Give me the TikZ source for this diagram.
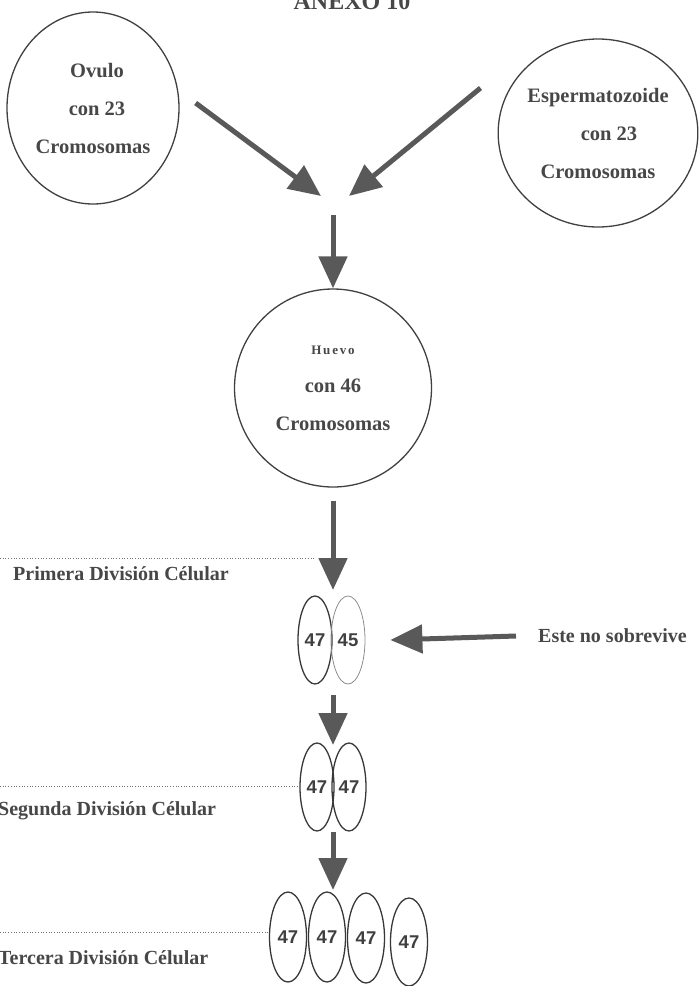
\documentclass[tikz,border=0pt]{standalone}
\usepackage{fontspec}
\setmainfont{Liberation Serif}
\newfontfamily\numfont{Liberation Sans}
\newfontfamily\spacedfont[LetterSpace=14]{Liberation Serif}
\usetikzlibrary{shapes.geometric,arrows.meta,positioning}

\tikzset{
  txt/.style={text=black!72, font=\bfseries\fontsize{20}{22}\selectfont, inner sep=0pt},
  bigcircle/.style={draw=black!75, line width=1.3pt, ellipse, inner sep=0pt,
    align=center, text=black!72, font=\bfseries\fontsize{20.5}{38}\selectfont},
  cell/.style={draw=black!78, line width=1.3pt, ellipse, minimum width=34pt,
    minimum height=88pt, inner sep=0pt, text=black!75,
    font=\numfont\bfseries\fontsize{18.5}{20}\selectfont},
  bigarrow/.style={draw=black!65, line width=5pt,
    -{Triangle[width=28pt,length=32pt]}},
  guide/.style={draw=black!55, line width=0.7pt, dotted},
}

\begin{document}
\begin{tikzpicture}[x=1pt,y=-1pt]
  \useasboundingbox (0,0) rectangle (699,986);

  \node[txt, anchor=base, font=\bfseries\fontsize{24}{26}\selectfont] (title) at (352,9) {ANEXO 10};

  % gametos
  \node[bigcircle, minimum width=172pt, minimum height=192pt] (ovulo) at (93,108) {\hspace{8pt}Ovulo\\\hspace{8pt}con 23\\Cromosomas};
  \node[bigcircle, minimum width=186pt, minimum height=188pt] (esperma) at (598,133) {Espermatozoide\\\hspace{22pt}con 23\\Cromosomas};

  \coordinate (meet) at (333,200);
  \draw[bigarrow] ([shift={(16,-5)}]ovulo.east) -- ([shift={(-12,-4)}]meet);
  \draw[bigarrow] ([shift={(-17,-45)}]esperma.west) -- ([shift={(16,-4)}]meet);

  % huevo
  \node[bigcircle, minimum width=197pt, minimum height=198pt] (huevo) at (333,388) {{\spacedfont\bfseries\fontsize{13}{14}\selectfont Huevo}\\con 46\\Cromosomas};
  \draw[bigarrow] ([yshift=-15pt]meet) -- (huevo.north);

  % primera division
  \node[cell] (c1a) at (315,640) {47};
  \node[cell, draw=black!45, line width=0.8pt] (c1b) at (348,640) {45};
  \coordinate (tip1) at (333,590);
  \draw[bigarrow] ([yshift=-13pt]huevo.south) -- (tip1);
  \node[txt, anchor=west] (div1) at (13,574) {Primera División Célular};
  \coordinate (g1) at (0,558);
  \draw[guide] (g1) -- (g1 -| 314,0);

  \node[txt, anchor=west] (dies) at (538,636) {Este no sobrevive};
  \draw[bigarrow] ([xshift=-22pt]dies.west) -- ([xshift=25pt]c1b.east);

  % segunda division
  \node[cell] (c2a) at (317,787) {47};
  \node[cell] (c2b) at (349,787) {47};
  \coordinate (tip2) at (333,745);
  \draw[bigarrow] (333,695) -- (tip2);
  \node[txt, anchor=west] (div2) at (-2,811) {Segunda División Célular};
  \coordinate (g2) at (0,786);
  \draw[guide] (g2) -- (g2 -| c2a.west);

  % tercera division
  \node[cell, minimum width=37pt, minimum height=90pt] (c3a) at (288,937) {47};
  \node[cell, minimum width=37pt, minimum height=90pt] (c3b) at (327,937) {47};
  \node[cell, minimum width=37pt, minimum height=90pt] (c3c) at (366,938) {47};
  \node[cell, minimum width=37pt, minimum height=88pt] (c3d) at (409,942) {47};
  \coordinate (tip3) at (333,890);
  \draw[bigarrow] (333,832) -- (tip3);
  \node[txt, anchor=west] (div3) at (-2,958) {Tercera División Célular};
  \coordinate (g3) at (0,932);
  \draw[guide] (g3) -- (g3 -| c3a.west);
\end{tikzpicture}
\end{document}
